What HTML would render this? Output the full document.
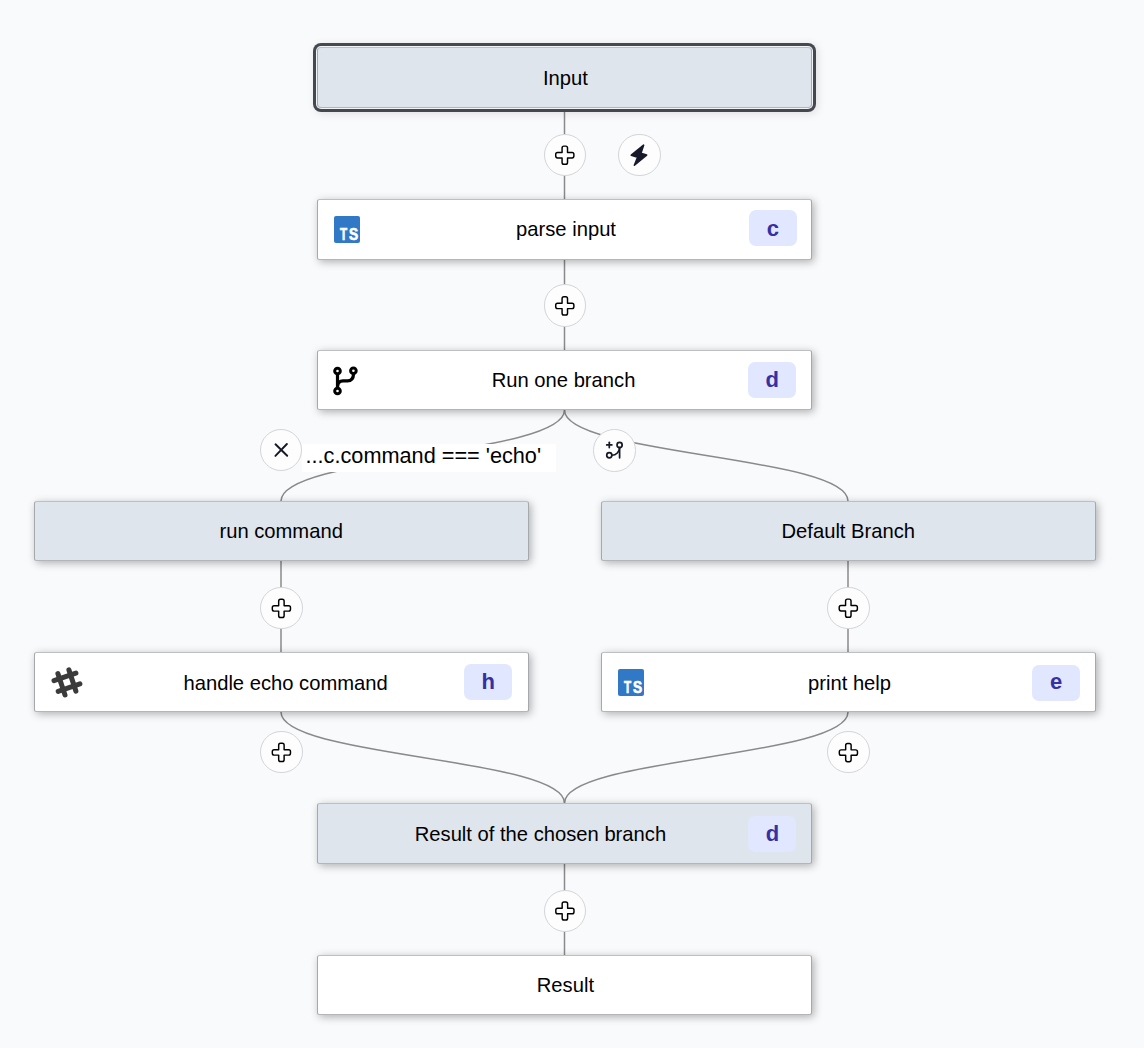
<!DOCTYPE html>
<html><head><meta charset="utf-8"><style>
html,body{margin:0;padding:0;}
body{width:1144px;height:1048px;background:#f9fafc;position:relative;overflow:hidden;font-family:"Liberation Sans",sans-serif;}
svg{position:absolute;left:0;top:0;overflow:visible;}
.node{position:absolute;box-sizing:border-box;width:495px;height:60px;border:1px solid;border-color:#bdbfc3 #a6a8ac #b3b5b9 #a6a8ac;border-radius:2.5px;background:#fff;
 box-shadow:2px 2px 8px rgba(0,0,0,.3);}
.gray{background:#dfe5ec;}
.t{position:absolute;width:600px;text-align:center;font-size:20.2px;line-height:20.2px;color:#000000;white-space:nowrap;}
.badge{position:absolute;width:48px;height:36px;border-radius:7px;background:#e0e7ff;}
.bt{position:absolute;width:48px;text-align:center;color:#3730a3;font-weight:bold;font-size:22px;line-height:22px;}
.btn{position:absolute;box-sizing:border-box;width:42.6px;height:42.6px;border-radius:50%;border:1px solid #d3d5d9;background:#fdfdfd;}
.ts{position:absolute;width:26px;height:27px;background:#3178c6;border-radius:2px;}
</style></head><body>
<svg width="1144" height="1048" viewBox="0 0 1144 1048"><g fill="none" stroke="#8a8a8a" stroke-width="1.5">
<path d="M564.5 108 V199"/><path d="M564.5 259 V350"/>
<path d="M564.5 410 C564.5 455.5 281 455.5 281 501"/>
<path d="M564.5 410 C564.5 455.5 848 455.5 848 501"/>
<path d="M281 561 V652"/><path d="M848 561 V652"/>
<path d="M281 712 C281 757.5 564.5 757.5 564.5 803"/>
<path d="M848 712 C848 757.5 564.5 757.5 564.5 803"/>
<path d="M564.5 864 V955"/></g></svg>
<div class="node gray" style="left:317px;top:46.5px;height:61.5px;box-shadow:0 0 0 1px #f3f4f6,0 0 0 4px #434851,2px 1.5px 8px 4px rgba(0,0,0,.10);border-radius:4px;"></div>
<div class="node" style="left:317px;top:199px;height:61px;"></div>
<div class="badge" style="left:748.6px;top:210.4px"></div>
<div class="node" style="left:317px;top:350px;height:60px;"></div>
<div class="badge" style="left:748.2px;top:362px"></div>
<div class="node gray" style="left:34px;top:501px;height:60px;"></div>
<div class="node gray" style="left:601px;top:501px;height:60px;"></div>
<div class="node" style="left:34px;top:652px;height:60px;"></div>
<div class="badge" style="left:464.2px;top:664.4px"></div>
<div class="node" style="left:601px;top:652px;height:60px;"></div>
<div class="badge" style="left:1032.2px;top:664.6px"></div>
<div class="node gray" style="left:317px;top:803px;height:61px;"></div>
<div class="badge" style="left:747.8px;top:815.6px"></div>
<div class="node" style="left:317px;top:955px;height:60px;"></div>
<div class="t" style="left:265.35px;top:67.80px">Input</div>
<div class="t" style="left:266.05px;top:218.90px">parse input</div>
<div class="bt" style="left:748.8000000000001px;top:218.1px">c</div>
<div class="t" style="left:263.55px;top:370.00px">Run one branch</div>
<div class="bt" style="left:748.2px;top:368.6px">d</div>
<div class="t" style="left:-18.85px;top:520.60px">run command</div>
<div class="t" style="left:548.30px;top:520.70px">Default Branch</div>
<div class="t" style="left:-14.40px;top:673.10px">handle echo command</div>
<div class="bt" style="left:464.2px;top:671.0px">h</div>
<div class="t" style="left:549.55px;top:672.50px">print help</div>
<div class="bt" style="left:1032.2px;top:671.2px">e</div>
<div class="t" style="left:240.45px;top:823.60px">Result of the chosen branch</div>
<div class="bt" style="left:748.4px;top:823.4000000000001px">d</div>
<div class="t" style="left:265.40px;top:974.80px">Result</div>
<div class="ts" style="left:334px;top:215.5px"></div>
<div class="ts" style="left:618px;top:668.5px"></div>
<div style="position:absolute;left:302px;top:443.5px;width:254px;height:28px;background:#fff;"></div>
<div class="t" style="left:123.3px;top:444.9px;font-size:21.7px;line-height:21.7px;">...c.command === 'echo'</div>
<div class="btn" style="left:543.50px;top:133.90px"></div>
<div class="btn" style="left:618.10px;top:133.70px"></div>
<div class="btn" style="left:543.50px;top:284.40px"></div>
<div class="btn" style="left:259.90px;top:428.70px"></div>
<div class="btn" style="left:593.10px;top:429.00px"></div>
<div class="btn" style="left:260.00px;top:586.70px"></div>
<div class="btn" style="left:827.00px;top:586.70px"></div>
<div class="btn" style="left:260.00px;top:730.70px"></div>
<div class="btn" style="left:827.10px;top:730.70px"></div>
<div class="btn" style="left:543.50px;top:889.50px"></div>
<svg width="1144" height="1048" viewBox="0 0 1144 1048"><g transform="translate(553.90 144.30) scale(0.9083)"><path d="M11 2a2 2 0 0 0-2 2v5H4a2 2 0 0 0-2 2v2c0 1.1.9 2 2 2h5v5c0 1.1.9 2 2 2h2a2 2 0 0 0 2-2v-5h5a2 2 0 0 0 2-2v-2a2 2 0 0 0-2-2h-5V4a2 2 0 0 0-2-2h-2z" fill="none" stroke="#000" stroke-width="1.6" stroke-linejoin="round"/></g><g transform="translate(553.90 295.00) scale(0.9083)"><path d="M11 2a2 2 0 0 0-2 2v5H4a2 2 0 0 0-2 2v2c0 1.1.9 2 2 2h5v5c0 1.1.9 2 2 2h2a2 2 0 0 0 2-2v-5h5a2 2 0 0 0 2-2v-2a2 2 0 0 0-2-2h-5V4a2 2 0 0 0-2-2h-2z" fill="none" stroke="#000" stroke-width="1.6" stroke-linejoin="round"/></g><g transform="translate(270.50 597.50) scale(0.9083)"><path d="M11 2a2 2 0 0 0-2 2v5H4a2 2 0 0 0-2 2v2c0 1.1.9 2 2 2h5v5c0 1.1.9 2 2 2h2a2 2 0 0 0 2-2v-5h5a2 2 0 0 0 2-2v-2a2 2 0 0 0-2-2h-5V4a2 2 0 0 0-2-2h-2z" fill="none" stroke="#000" stroke-width="1.6" stroke-linejoin="round"/></g><g transform="translate(837.40 597.30) scale(0.9083)"><path d="M11 2a2 2 0 0 0-2 2v5H4a2 2 0 0 0-2 2v2c0 1.1.9 2 2 2h5v5c0 1.1.9 2 2 2h2a2 2 0 0 0 2-2v-5h5a2 2 0 0 0 2-2v-2a2 2 0 0 0-2-2h-5V4a2 2 0 0 0-2-2h-2z" fill="none" stroke="#000" stroke-width="1.6" stroke-linejoin="round"/></g><g transform="translate(270.50 741.50) scale(0.9083)"><path d="M11 2a2 2 0 0 0-2 2v5H4a2 2 0 0 0-2 2v2c0 1.1.9 2 2 2h5v5c0 1.1.9 2 2 2h2a2 2 0 0 0 2-2v-5h5a2 2 0 0 0 2-2v-2a2 2 0 0 0-2-2h-5V4a2 2 0 0 0-2-2h-2z" fill="none" stroke="#000" stroke-width="1.6" stroke-linejoin="round"/></g><g transform="translate(837.50 741.70) scale(0.9083)"><path d="M11 2a2 2 0 0 0-2 2v5H4a2 2 0 0 0-2 2v2c0 1.1.9 2 2 2h5v5c0 1.1.9 2 2 2h2a2 2 0 0 0 2-2v-5h5a2 2 0 0 0 2-2v-2a2 2 0 0 0-2-2h-5V4a2 2 0 0 0-2-2h-2z" fill="none" stroke="#000" stroke-width="1.6" stroke-linejoin="round"/></g><g transform="translate(554.00 900.10) scale(0.9083)"><path d="M11 2a2 2 0 0 0-2 2v5H4a2 2 0 0 0-2 2v2c0 1.1.9 2 2 2h5v5c0 1.1.9 2 2 2h2a2 2 0 0 0 2-2v-5h5a2 2 0 0 0 2-2v-2a2 2 0 0 0-2-2h-5V4a2 2 0 0 0-2-2h-2z" fill="none" stroke="#000" stroke-width="1.6" stroke-linejoin="round"/></g><path d="M643.6 145.2 L640.9 153.3 L646.6 155.1 L634.4 165.2 L637.6 157.3 L631.3 155.2 Z" fill="#181a2b" stroke="#181a2b" stroke-width="1.6" stroke-linejoin="round"/><path d="M275.5 444.3 L287.2 455.8 M286.9 444.0 L275.4 455.9" stroke="#161826" stroke-width="1.9" stroke-linecap="round" fill="none"/><g transform="translate(604.15 439.8) scale(0.858) rotate(180 12 12)" fill="none" stroke="#161826" stroke-width="2" stroke-linecap="round" stroke-linejoin="round"><path d="M6 3v12"/><circle cx="18" cy="6" r="3"/><circle cx="6" cy="18" r="3"/><path d="M15 6a9 9 0 0 0-9 9"/><path d="M18 15v6"/><path d="M21 18h-6"/></g><g fill="none" stroke="#000" stroke-width="3"><circle cx="337.5" cy="371" r="2.8"/><circle cx="353.4" cy="370.8" r="2.8"/><circle cx="337.5" cy="391" r="2.8"/></g><g fill="none" stroke="#000" stroke-width="3.2"><path d="M337.5 373.8 V388.2"/><path d="M353.6 373.6 C353.4 378.5 351.5 380.9 347.5 380.9 H343 C339.5 381 337.8 383 337.5 386.5"/></g><g fill="none" stroke="#3b3b3b" stroke-width="5" stroke-linecap="round"><path d="M57.9 673.6 L65.0 695.0"/><path d="M68.9 669.9 L75.9 691.1"/><path d="M54.0 680.6 L75.9 673.1"/><path d="M58.2 691.4 L79.9 683.9"/></g><g fill="#fff" font-family="Liberation Sans" font-weight="bold" font-size="17.2" stroke="#fff" stroke-width="0.7"><text transform="translate(339.9 240.1) scale(0.68 1.0)">T</text><text transform="translate(349.1 240.3) scale(0.80 0.97)">S</text></g><g fill="#fff" font-family="Liberation Sans" font-weight="bold" font-size="17.2" stroke="#fff" stroke-width="0.7"><text transform="translate(623.9 693.1) scale(0.68 1.0)">T</text><text transform="translate(633.1 693.3) scale(0.80 0.97)">S</text></g></svg>
</body></html>
